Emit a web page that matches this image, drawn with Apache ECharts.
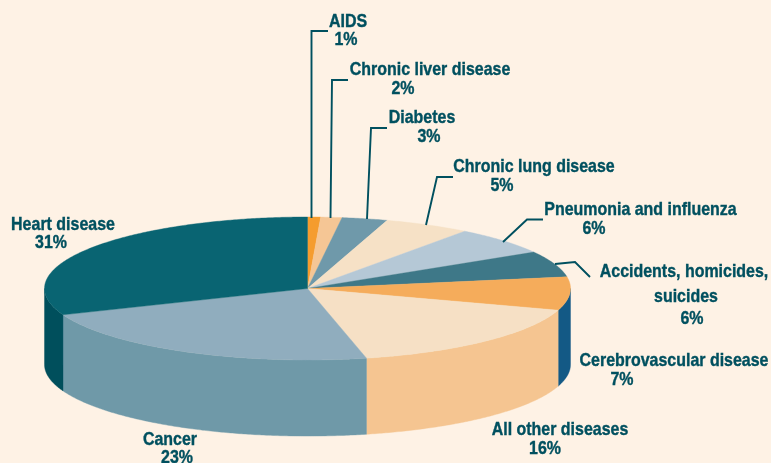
<!DOCTYPE html>
<html><head><meta charset="utf-8">
<style>html,body{margin:0;padding:0;background:#FEF2E5}#c{width:771px;height:463px}</style>
<script src="https://cdn.jsdelivr.net/npm/echarts@6/dist/echarts.min.js"></script>
</head><body><div id="c"></div>
<script>
// Causes, clockwise from 12 o'clock
const causes = ['AIDS','Chronic liver disease','Diabetes','Chronic lung disease','Pneumonia and influenza','Accidents, homicides, suicides','Cerebrovascular disease','All other diseases','Cancer','Heart disease'];
// Percentages printed on the labels
const labelledPercent = [1,2,3,5,6,6,7,16,23,31];
// Share of the circle each wedge actually occupies in the picture
const wedgeShare = [0.8,1.3,2.8,5.3,6.3,5.9,7.5,16.5,22.6,31.0];
const topColors  = ['#F59C2E','#F5C695','#6F99AA','#F6E1C6','#B5C8D6','#3E7888','#F5AC5B','#F6E0C5','#90ADBE','#096472'];
const wallColors = ['#F59C2E','#F5C695','#6F99AA','#F6E1C6','#B5C8D6','#3E7888','#135985','#F5C591','#6F99A8','#004F5C'];

const INK = '#00505F';
const DEPTH = 1.064; // pie thickness in y-axis units

let acc = 0;
const wedges = wedgeShare.map((s,i)=>{
  const start = acc/100*360; acc += s; const end = acc/100*360;
  return {name:causes[i], value:[start,end,labelledPercent[i]]};
});
const rim = (deg,drop)=>{const r=deg*Math.PI/180;return [Math.sin(r),Math.cos(r)-(drop||0)];};

function renderTop(p,api){
  const a=api.value(0),b=api.value(1),pts=[api.coord([0,0])];
  for(let t=a;t<b;t+=0.5)pts.push(api.coord(rim(t)));
  pts.push(api.coord(rim(b)));
  const c=topColors[p.dataIndex];
  return {type:'polygon',shape:{points:pts},style:{fill:c,stroke:c,lineWidth:0.4}};
}
function renderWall(p,api){
  const a=Math.max(api.value(0),90),b=Math.min(api.value(1),270);
  if(b<=a)return null;
  const up=[],down=[];
  for(let t=a;t<b;t+=0.5){up.push(api.coord(rim(t)));down.unshift(api.coord(rim(t,DEPTH)));}
  up.push(api.coord(rim(b)));down.unshift(api.coord(rim(b,DEPTH)));
  const c=wallColors[p.dataIndex];
  return {type:'polygon',shape:{points:up.concat(down)},style:{fill:c,stroke:c,lineWidth:0.4}};
}

// Text lines: [text, centre x, centre y]; percentages come from labelledPercent
const pct = i=>labelledPercent[i]+'%';
const textLines = [
  ['AIDS',348,22],[pct(0),346,40],
  ['Chronic liver disease',430,70],[pct(1),403,89],
  ['Diabetes',422,118],[pct(2),429,137],
  ['Chronic lung disease',534,167],[pct(3),502,186],
  ['Pneumonia and influenza',640.5,210],[pct(4),594,229],
  ['Accidents, homicides,',684,272],['suicides',686,297],[pct(5),692,319],
  ['Cerebrovascular disease',674,361],[pct(6),622,380],
  ['All other diseases',560,430],[pct(7),545,449],
  ['Cancer',170,440],[pct(8),177,458],
  ['Heart disease',63,225],[pct(9),51,243]
];
const leaders = [
  [[311.5,218],[311.5,31],[328,31]],
  [[330.5,218],[332,80],[348,80]],
  [[367,219],[371,128],[387,128]],
  [[426,225],[437,177],[453,177]],
  [[503,242],[527,219.5],[543,219.5]],
  [[555,264],[575,262],[590,277]]
];
const graphics = leaders.map(pts=>({type:'polyline',z:10,shape:{points:pts},style:{stroke:INK,lineWidth:1.9,fill:null}}))
 .concat(textLines.map(l=>({type:'text',z:10,x:l[1],y:l[2],scaleX:0.84,style:{text:l[0],fill:INK,stroke:INK,lineWidth:0.4,align:'center',verticalAlign:'middle',
   font:'bold 19px "Liberation Sans", sans-serif'}})));

const chart = echarts.init(document.getElementById('c'),null,{renderer:'canvas'});
chart.setOption({
  animation:false,
  backgroundColor:'#FEF2E5',
  grid:{left:44.5,width:526,top:217,height:143},
  xAxis:{type:'value',min:-1,max:1,show:false},
  yAxis:{type:'value',min:-1,max:1,show:false},
  series:[
    {type:'custom',z:1,clip:false,silent:true,data:wedges,renderItem:renderWall,encode:{x:[],y:[]}},
    {type:'custom',z:2,clip:false,silent:true,data:wedges,renderItem:renderTop,encode:{x:[],y:[]}}
  ],
  graphic:graphics
});
</script></body></html>
